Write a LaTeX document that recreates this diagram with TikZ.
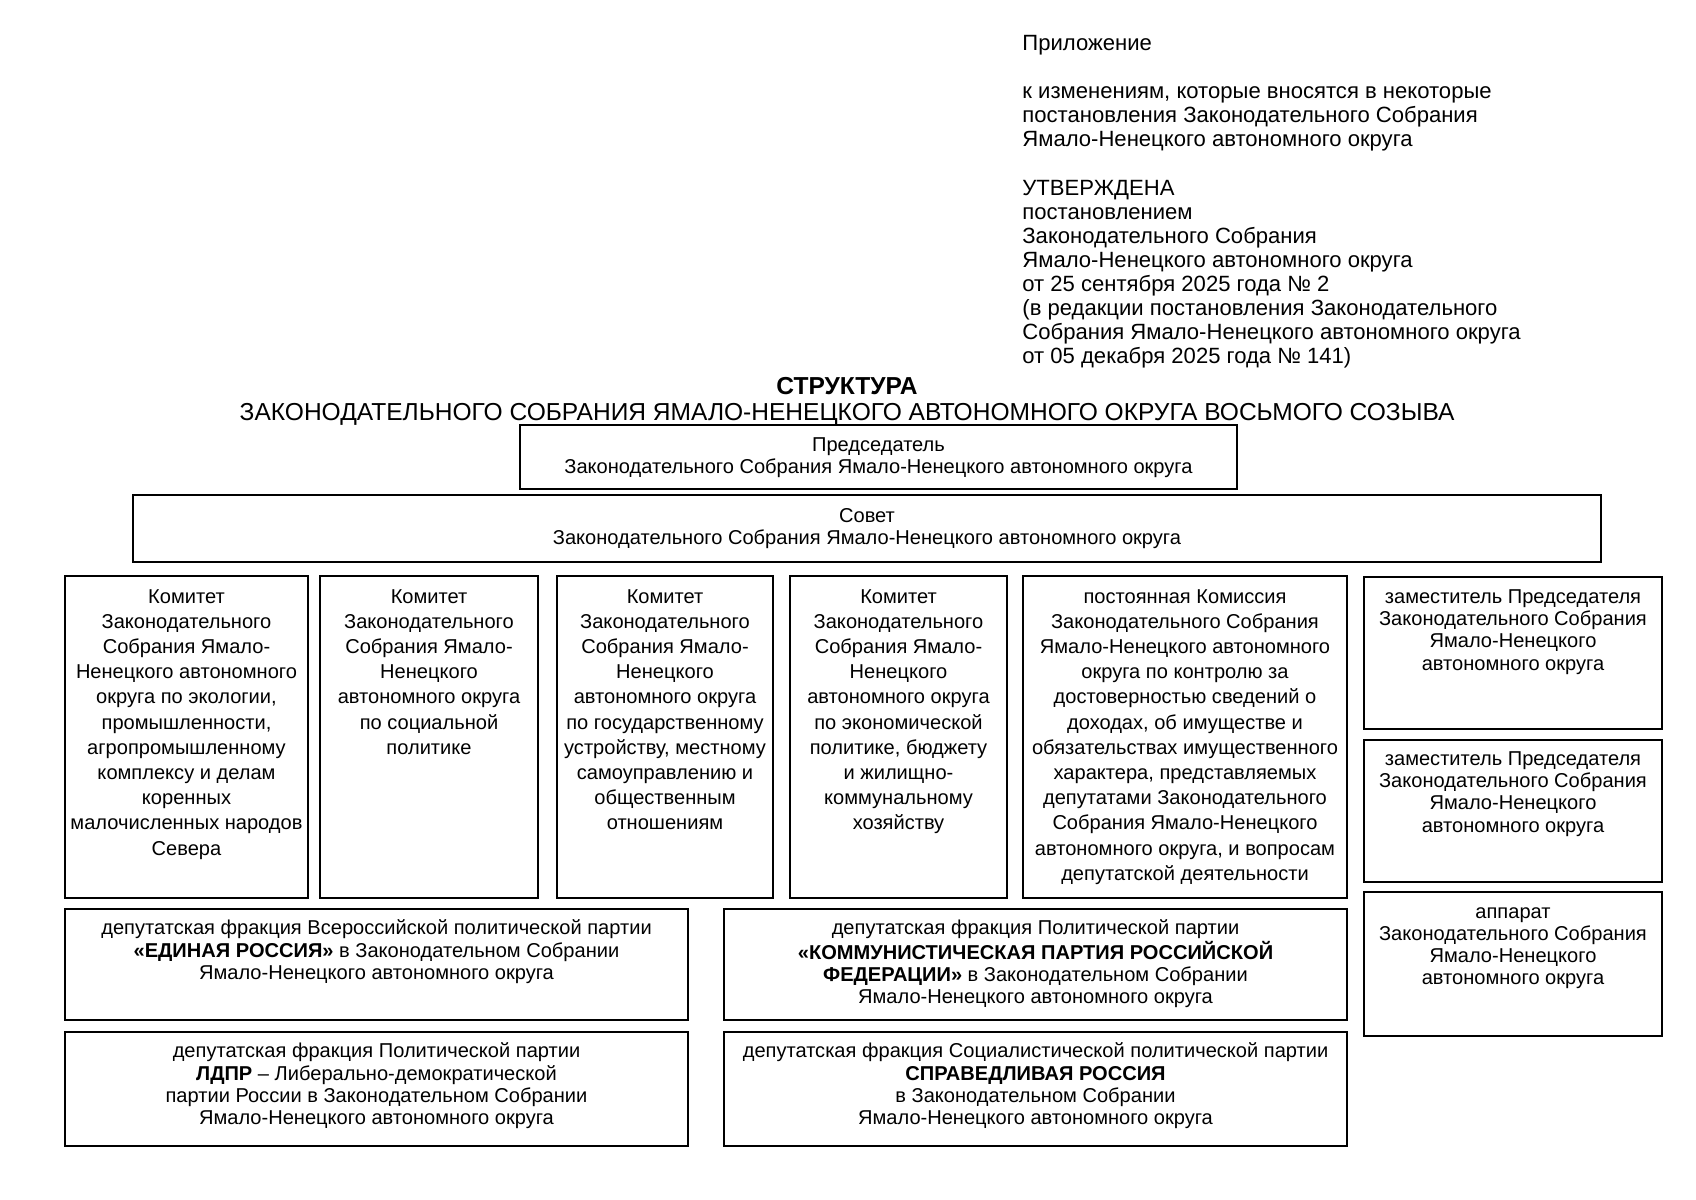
\documentclass[tikz,border=0pt]{standalone}
\usepackage{fontspec}
\setmainfont{Liberation Sans}
\usetikzlibrary{positioning,fit}

\tikzset{
  unit/.style={draw,line width=1pt,inner sep=0pt},
  txt/.style={align=center,inner sep=0pt,font=\fontsize{10}{11}\selectfont,
    execute at begin node={\rule{0pt}{8pt}}},
  txtwide/.style={txt,font=\fontsize{10}{12.55}\selectfont},
}

\begin{document}
\begin{tikzpicture}[x=0.4983pt,y=-0.4983pt]
  \fill[white] (0,0) rectangle (1696,1200);
  % шапка
  \node[anchor=north west,align=left,inner sep=0pt,font=\fontsize{11}{12}\selectfont,
    execute at begin node={\rule{0pt}{8.8pt}}] (appx) at (1022,35)
    {Приложение\\[12pt]
     к изменениям, которые вносятся в некоторые\\
     постановления Законодательного Собрания\\
     Ямало-Ненецкого автономного округа\\[12pt]
     УТВЕРЖДЕНА\\
     постановлением\\
     Законодательного Собрания\\
     Ямало-Ненецкого автономного округа\\
     от 25 сентября 2025 года № 2\\
     (в редакции постановления Законодательного\\
     Собрания Ямало-Ненецкого автономного округа\\
     от 05 декабря 2025 года № 141)};
  \node[anchor=north,align=center,inner sep=0pt,font=\fontsize{12.23}{13}\selectfont,
    execute at begin node={\rule{0pt}{9.6pt}}] (title) at (847,377)
    {\textbf{СТРУКТУРА}\\
     ЗАКОНОДАТЕЛЬНОГО СОБРАНИЯ ЯМАЛО-НЕНЕЦКОГО АВТОНОМНОГО ОКРУГА ВОСЬМОГО СОЗЫВА};

  % руководство
  \node[unit,fit={(520,425) (1237,489)}] (chair) {};
  \node[txt,below=6.5pt of chair.north] (chairT)
    {Председатель\\Законодательного Собрания Ямало-Ненецкого автономного округа};
  \node[unit,fit={(133,495) (1601,562)}] (council) {};
  \node[txt,below=7.2pt of council.north] (councilT)
    {Совет\\Законодательного Собрания Ямало-Ненецкого автономного округа};

  % комитеты и комиссия
  \node[unit,fit={(65,576) (308,898)}] (kEco) {};
  \node[txtwide,below=7pt of kEco.north] (kEcoT)
    {Комитет\\Законодательного\\Собрания Ямало-\\Ненецкого автономного\\округа по экологии,\\
     промышленности,\\агропромышленному\\комплексу и делам\\коренных\\
     малочисленных народов\\Севера};
  \node[unit,fit={(320,576) (538,898)}] (kSoc) {};
  \node[txtwide,below=7pt of kSoc.north] (kSocT)
    {Комитет\\Законодательного\\Собрания Ямало-\\Ненецкого\\автономного округа\\
     по социальной\\политике};
  \node[unit,fit={(557,576) (773,898)}] (kGov) {};
  \node[txtwide,below=7pt of kGov.north] (kGovT)
    {Комитет\\Законодательного\\Собрания Ямало-\\Ненецкого\\автономного округа\\
     по государственному\\устройству, местному\\самоуправлению и\\общественным\\отношениям};
  \node[unit,fit={(790,576) (1007,898)}] (kEcon) {};
  \node[txtwide,below=7pt of kEcon.north] (kEconT)
    {Комитет\\Законодательного\\Собрания Ямало-\\Ненецкого\\автономного округа\\
     по экономической\\политике, бюджету\\и жилищно-\\коммунальному\\хозяйству};
  \node[unit,fit={(1023,576) (1347,898)}] (comm) {};
  \node[txtwide,below=7pt of comm.north] (commT)
    {постоянная Комиссия\\Законодательного Собрания\\Ямало-Ненецкого автономного\\
     округа по контролю за\\достоверностью сведений о\\доходах, об имуществе и\\
     обязательствах имущественного\\характера, представляемых\\
     депутатами Законодательного\\Собрания Ямало-Ненецкого\\
     автономного округа, и вопросам\\депутатской деятельности};

  % заместители и аппарат
  \node[unit,fit={(1364,577) (1662,729)}] (dep1) {};
  \node[txt,below=6.8pt of dep1.north] (dep1T)
    {заместитель Председателя\\Законодательного Собрания\\Ямало-Ненецкого\\автономного округа};
  \node[unit,fit={(1364,740) (1662,882)}] (dep2) {};
  \node[txt,below=6.3pt of dep2.north] (dep2T)
    {заместитель Председателя\\Законодательного Собрания\\Ямало-Ненецкого\\автономного округа};
  \node[unit,fit={(1364,892) (1662,1036)}] (staff) {};
  \node[txt,below=7.9pt of staff.north] (staffT)
    {аппарат\\Законодательного Собрания\\Ямало-Ненецкого\\автономного округа};

  % фракции
  \node[unit,fit={(65,909) (688,1020)}] (fER) {};
  \node[txt,below=5.8pt of fER.north] (fERT)
    {депутатская фракция Всероссийской политической партии\\
     \textbf{«ЕДИНАЯ РОССИЯ»} в Законодательном Собрании\\
     Ямало-Ненецкого автономного округа};
  \node[unit,fit={(724,909) (1347,1020)}] (fKPRF) {};
  \node[txt,below=5.8pt of fKPRF.north] (fKPRFT)
    {депутатская фракция Политической партии\\
     \textbf{«КОММУНИСТИЧЕСКАЯ ПАРТИЯ РОССИЙСКОЙ}\\
     \textbf{ФЕДЕРАЦИИ»} в Законодательном Собрании\\
     Ямало-Ненецкого автономного округа};
  \node[unit,fit={(65,1032) (688,1146)}] (fLDPR) {};
  \node[txt,below=5.8pt of fLDPR.north] (fLDPRT)
    {депутатская фракция Политической партии\\
     \textbf{ЛДПР} – Либерально-демократической\\
     партии России в Законодательном Собрании\\
     Ямало-Ненецкого автономного округа};
  \node[unit,fit={(724,1032) (1347,1146)}] (fSR) {};
  \node[txt,below=5.8pt of fSR.north] (fSRT)
    {депутатская фракция Социалистической политической партии\\
     \textbf{СПРАВЕДЛИВАЯ РОССИЯ}\\
     в Законодательном Собрании\\
     Ямало-Ненецкого автономного округа};
\end{tikzpicture}
\end{document}
